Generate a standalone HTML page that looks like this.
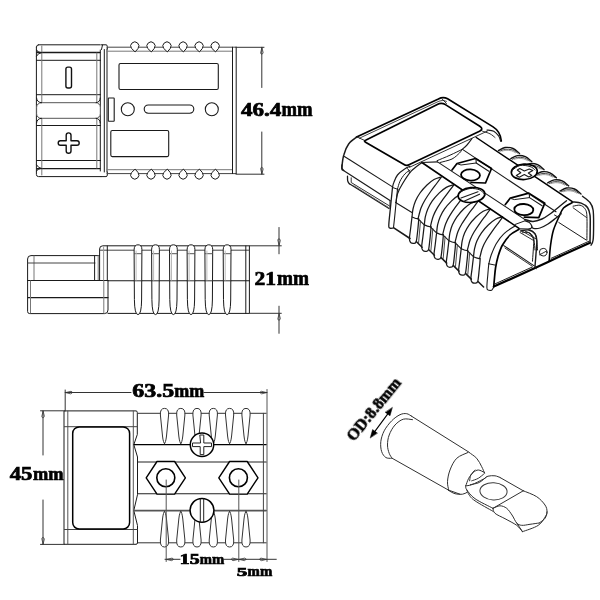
<!DOCTYPE html>
<html lang="en">
<head>
<meta charset="utf-8">
<title>Connector dimensions</title>
<style>
html,body{margin:0;padding:0;background:#fff;}
body{width:600px;height:600px;overflow:hidden;}
svg{display:block;}
text{font-family:"Liberation Serif",serif;font-weight:bold;fill:#000;}
</style>
</head>
<body>
<svg width="600" height="600" viewBox="0 0 600 600" fill="none" stroke-linecap="round" stroke-linejoin="round">
<rect x="0" y="0" width="600" height="600" fill="#fff"/>
<g id="top-view">
<path d="M38.5 44.8 H100 M36.4 47 Q36.4 44.8 38.5 44.8 M36.4 47 V174.5 Q36.4 176.6 38.5 176.6 H101" stroke="#1a1a1a" stroke-width="1" fill="none" />
<line x1="37" y1="52.5" x2="100" y2="52.5" stroke="#1a1a1a" stroke-width="1.3"/>
<line x1="36.5" y1="60.3" x2="100.5" y2="60.3" stroke="#1a1a1a" stroke-width="1"/>
<line x1="36.5" y1="94.7" x2="100.5" y2="94.7" stroke="#1a1a1a" stroke-width="1"/>
<line x1="36.5" y1="125.5" x2="100.5" y2="125.5" stroke="#1a1a1a" stroke-width="1"/>
<line x1="36.5" y1="160.5" x2="100.5" y2="160.5" stroke="#1a1a1a" stroke-width="1"/>
<line x1="37" y1="168.6" x2="100" y2="168.6" stroke="#1a1a1a" stroke-width="1.3"/>
<line x1="41.8" y1="46" x2="41.8" y2="102" stroke="#777" stroke-width="1"/>
<line x1="41.8" y1="119" x2="41.8" y2="175" stroke="#777" stroke-width="1"/>
<line x1="96.8" y1="53" x2="96.8" y2="102" stroke="#777" stroke-width="1"/>
<line x1="96.8" y1="119" x2="96.8" y2="168" stroke="#777" stroke-width="1"/>
<path d="M36.6 50 Q37 52.3 40 52.5 M36.6 56 Q38 53 41.8 52.5 M36.6 171 Q37 168.8 40 168.6 M36.6 165 Q38 168 41.8 168.6" stroke="#1a1a1a" stroke-width="1" fill="none" />
<line x1="100.3" y1="50" x2="100.3" y2="171" stroke="#1a1a1a" stroke-width="1"/>
<path d="M101 44.8 H106 Q107.3 44.8 107.3 46.5 V49 M101.5 49.5 L102.5 45 M104.3 49.5 V172 M107 49 V172 M101 176.6 H106 Q107.3 176.6 107.3 175 V172" stroke="#1a1a1a" stroke-width="1" fill="none" />
<rect x="36.6" y="102.7" width="63.7" height="15.6" rx="4.5" stroke="#555" stroke-width="1" fill="#fff"/>
<path d="M36.5 98 Q37 102.5 41.5 102.7 M36.5 123 Q37 118.5 41.5 118.3 M100.3 98 Q100 102.5 96 102.7 M100.3 123 Q100 118.5 96 118.3" stroke="#1a1a1a" stroke-width="1" fill="none" />
<rect x="65.9" y="67.1" width="5.6" height="20.9" rx="2" stroke="#111" stroke-width="1.4" fill="none"/>
<path d="M68.6 132.9 Q71 132.9 71 135.2 V140.8 H77 Q79.2 140.8 79.2 143 Q79.2 145.3 77 145.3 H71 V151 Q71 153.3 68.6 153.3 Q66.2 153.3 66.2 151 V145.3 H60.4 Q58.2 145.3 58.2 143 Q58.2 140.8 60.4 140.8 H66.2 V135.2 Q66.2 132.9 68.6 132.9 Z" stroke="#111" stroke-width="1.4" fill="none" />
<line x1="107" y1="47.2" x2="236" y2="47.2" stroke="#444" stroke-width="1"/>
<line x1="107" y1="51.2" x2="232.5" y2="51.2" stroke="#777" stroke-width="1"/>
<line x1="107" y1="169.7" x2="232.5" y2="169.7" stroke="#777" stroke-width="1"/>
<line x1="107" y1="173.6" x2="236" y2="173.6" stroke="#444" stroke-width="1"/>
<line x1="232.5" y1="47.2" x2="232.5" y2="173.6" stroke="#1a1a1a" stroke-width="1"/>
<line x1="236.2" y1="47.2" x2="236.2" y2="173.6" stroke="#1a1a1a" stroke-width="1"/>
<path d="M134.8 51.6 L131.4 48.3 A4.1 4.1 0 1 1 138.20000000000002 48.3 Z" stroke="#1a1a1a" stroke-width="1" fill="#fff" />
<path d="M134.8 169.4 L131.4 172.7 A4.1 4.1 0 1 0 138.20000000000002 172.7 Z" stroke="#1a1a1a" stroke-width="1" fill="#fff" />
<path d="M151 51.6 L147.6 48.3 A4.1 4.1 0 1 1 154.4 48.3 Z" stroke="#1a1a1a" stroke-width="1" fill="#fff" />
<path d="M151 169.4 L147.6 172.7 A4.1 4.1 0 1 0 154.4 172.7 Z" stroke="#1a1a1a" stroke-width="1" fill="#fff" />
<path d="M167 51.6 L163.6 48.3 A4.1 4.1 0 1 1 170.4 48.3 Z" stroke="#1a1a1a" stroke-width="1" fill="#fff" />
<path d="M167 169.4 L163.6 172.7 A4.1 4.1 0 1 0 170.4 172.7 Z" stroke="#1a1a1a" stroke-width="1" fill="#fff" />
<path d="M183.1 51.6 L179.7 48.3 A4.1 4.1 0 1 1 186.5 48.3 Z" stroke="#1a1a1a" stroke-width="1" fill="#fff" />
<path d="M183.1 169.4 L179.7 172.7 A4.1 4.1 0 1 0 186.5 172.7 Z" stroke="#1a1a1a" stroke-width="1" fill="#fff" />
<path d="M199.1 51.6 L195.7 48.3 A4.1 4.1 0 1 1 202.5 48.3 Z" stroke="#1a1a1a" stroke-width="1" fill="#fff" />
<path d="M199.1 169.4 L195.7 172.7 A4.1 4.1 0 1 0 202.5 172.7 Z" stroke="#1a1a1a" stroke-width="1" fill="#fff" />
<path d="M215.2 51.6 L211.79999999999998 48.3 A4.1 4.1 0 1 1 218.6 48.3 Z" stroke="#1a1a1a" stroke-width="1" fill="#fff" />
<path d="M215.2 169.4 L211.79999999999998 172.7 A4.1 4.1 0 1 0 218.6 172.7 Z" stroke="#1a1a1a" stroke-width="1" fill="#fff" />
<rect x="119" y="63.5" width="99.3" height="26.0" rx="1.5" stroke="#1a1a1a" stroke-width="1.1" fill="none"/>
<rect x="108.3" y="98" width="5.9" height="23.2" rx="0.5" stroke="#1a1a1a" stroke-width="1.1" fill="none"/>
<circle cx="127.8" cy="109.2" r="6.5" stroke="#1a1a1a" stroke-width="1.1" fill="none"/>
<rect x="144.2" y="105" width="49.6" height="8.2" rx="4.1" stroke="#1a1a1a" stroke-width="1.1" fill="none"/>
<circle cx="211.8" cy="109.2" r="6.5" stroke="#1a1a1a" stroke-width="1.1" fill="none"/>
<rect x="110.8" y="130.5" width="57.9" height="26.1" rx="1.5" stroke="#1a1a1a" stroke-width="1.1" fill="none"/>
<line x1="236" y1="47.3" x2="264" y2="47.3" stroke="#333" stroke-width="1"/>
<line x1="236" y1="174.2" x2="264" y2="174.2" stroke="#333" stroke-width="1"/>
<line x1="261.8" y1="47.3" x2="261.8" y2="87.5" stroke="#333" stroke-width="1"/>
<line x1="261.8" y1="132" x2="261.8" y2="174.3" stroke="#333" stroke-width="1"/>
<path d="M261.8 48 L260.6 53 Q261.8 56 263 53 Z" stroke="#333" stroke-width="0.8" fill="none" />
<path d="M261.8 173.6 L260.6 168.6 Q261.8 165.6 263 168.6 Z" stroke="#333" stroke-width="0.8" fill="none" />
</g>
<g id="side-view">
<path d="M99.6 255.6 H31 Q27.6 255.6 27.6 259 V280.5" stroke="#1a1a1a" stroke-width="1" fill="none" />
<line x1="34" y1="256" x2="34" y2="280" stroke="#777" stroke-width="1"/>
<line x1="28" y1="263" x2="95" y2="263" stroke="#444" stroke-width="1"/>
<line x1="94.6" y1="256" x2="94.6" y2="280" stroke="#1a1a1a" stroke-width="1"/>
<line x1="98.2" y1="255.6" x2="98.2" y2="280" stroke="#777" stroke-width="1"/>
<path d="M27.6 280.5 V311.5 Q27.6 313.6 29.7 313.6 H104.5 Q108 313.6 108 310 V280.5" stroke="#1a1a1a" stroke-width="1" fill="none" />
<line x1="27.6" y1="280.5" x2="108" y2="280.5" stroke="#1a1a1a" stroke-width="1.2"/>
<line x1="28" y1="297.6" x2="108" y2="297.6" stroke="#1a1a1a" stroke-width="1.1"/>
<line x1="30.5" y1="281" x2="30.5" y2="313" stroke="#777" stroke-width="1"/>
<line x1="103.8" y1="281" x2="103.8" y2="313" stroke="#777" stroke-width="1"/>
<path d="M99.6 280 V249 Q99.6 245.8 102.8 245.8 H249.4 V313.4 H108" stroke="#1a1a1a" stroke-width="1" fill="none" />
<line x1="100" y1="250.2" x2="249" y2="250.2" stroke="#444" stroke-width="1"/>
<line x1="108" y1="280.8" x2="249.4" y2="280.8" stroke="#1a1a1a" stroke-width="1.1"/>
<line x1="245.8" y1="246" x2="245.8" y2="313.4" stroke="#1a1a1a" stroke-width="1"/>
<line x1="107.3" y1="246" x2="107.3" y2="280.5" stroke="#1a1a1a" stroke-width="1"/>
<line x1="103.6" y1="247" x2="103.6" y2="280" stroke="#999" stroke-width="1"/>
<path d="M134.1 249.5 Q134.1 244.8 138 244.8 Q141.9 244.8 141.9 249.5 L141.6 300 Q141.4 314.6 138 314.6 Q134.6 314.6 134.4 300 Z" stroke="#1a1a1a" stroke-width="1" fill="#fff" />
<line x1="134.4" y1="253.7" x2="141.6" y2="253.7" stroke="#555" stroke-width="1"/>
<line x1="134.2" y1="280.8" x2="141.8" y2="280.8" stroke="#333" stroke-width="1"/>
<line x1="136.1" y1="251" x2="136.1" y2="280" stroke="#bbb" stroke-width="1"/>
<path d="M151.6 249.5 Q151.6 244.8 155.5 244.8 Q159.4 244.8 159.4 249.5 L159.1 300 Q158.9 314.6 155.5 314.6 Q152.1 314.6 151.9 300 Z" stroke="#1a1a1a" stroke-width="1" fill="#fff" />
<line x1="151.9" y1="253.7" x2="159.1" y2="253.7" stroke="#555" stroke-width="1"/>
<line x1="151.7" y1="280.8" x2="159.3" y2="280.8" stroke="#333" stroke-width="1"/>
<line x1="153.6" y1="251" x2="153.6" y2="280" stroke="#bbb" stroke-width="1"/>
<path d="M169.5 249.5 Q169.5 244.8 173.4 244.8 Q177.3 244.8 177.3 249.5 L177.0 300 Q176.8 314.6 173.4 314.6 Q170.0 314.6 169.8 300 Z" stroke="#1a1a1a" stroke-width="1" fill="#fff" />
<line x1="169.8" y1="253.7" x2="177.0" y2="253.7" stroke="#555" stroke-width="1"/>
<line x1="169.6" y1="280.8" x2="177.20000000000002" y2="280.8" stroke="#333" stroke-width="1"/>
<line x1="171.5" y1="251" x2="171.5" y2="280" stroke="#bbb" stroke-width="1"/>
<path d="M187.1 249.5 Q187.1 244.8 191 244.8 Q194.9 244.8 194.9 249.5 L194.6 300 Q194.4 314.6 191 314.6 Q187.6 314.6 187.4 300 Z" stroke="#1a1a1a" stroke-width="1" fill="#fff" />
<line x1="187.4" y1="253.7" x2="194.6" y2="253.7" stroke="#555" stroke-width="1"/>
<line x1="187.2" y1="280.8" x2="194.8" y2="280.8" stroke="#333" stroke-width="1"/>
<line x1="189.1" y1="251" x2="189.1" y2="280" stroke="#bbb" stroke-width="1"/>
<path d="M204.9 249.5 Q204.9 244.8 208.8 244.8 Q212.70000000000002 244.8 212.70000000000002 249.5 L212.4 300 Q212.20000000000002 314.6 208.8 314.6 Q205.4 314.6 205.20000000000002 300 Z" stroke="#1a1a1a" stroke-width="1" fill="#fff" />
<line x1="205.20000000000002" y1="253.7" x2="212.4" y2="253.7" stroke="#555" stroke-width="1"/>
<line x1="205.0" y1="280.8" x2="212.60000000000002" y2="280.8" stroke="#333" stroke-width="1"/>
<line x1="206.9" y1="251" x2="206.9" y2="280" stroke="#bbb" stroke-width="1"/>
<path d="M223.2 249.5 Q223.2 244.8 227.1 244.8 Q231.0 244.8 231.0 249.5 L230.7 300 Q230.5 314.6 227.1 314.6 Q223.7 314.6 223.5 300 Z" stroke="#1a1a1a" stroke-width="1" fill="#fff" />
<line x1="223.5" y1="253.7" x2="230.7" y2="253.7" stroke="#555" stroke-width="1"/>
<line x1="223.29999999999998" y1="280.8" x2="230.9" y2="280.8" stroke="#333" stroke-width="1"/>
<line x1="225.2" y1="251" x2="225.2" y2="280" stroke="#bbb" stroke-width="1"/>
<line x1="249.4" y1="245.8" x2="281.3" y2="245.8" stroke="#333" stroke-width="1"/>
<line x1="249.4" y1="313.3" x2="281.3" y2="313.3" stroke="#333" stroke-width="1"/>
<line x1="279" y1="227.5" x2="279" y2="253.8" stroke="#333" stroke-width="1"/>
<line x1="279" y1="306.2" x2="279" y2="333.3" stroke="#333" stroke-width="1"/>
<path d="M279 245 L277.8 240 Q279 237 280.2 240 Z" stroke="#333" stroke-width="0.8" fill="none" />
<path d="M279 314 L277.8 319 Q279 322 280.2 319 Z" stroke="#333" stroke-width="0.8" fill="none" />
</g>
<g id="bottom-view">
<path d="M64.4 410.9 H136 Q137.3 410.9 137.3 412.5 V434.5 L133.8 444.7 L137.5 457 V494.7 L133.8 510.5 L137.5 525.5 V543 Q137.3 544.3 136 544.3 H64.4 Z" stroke="#1a1a1a" stroke-width="1" fill="none" />
<line x1="67.8" y1="411" x2="67.8" y2="544" stroke="#555" stroke-width="1"/>
<line x1="133.3" y1="411" x2="133.3" y2="544" stroke="#555" stroke-width="1"/>
<line x1="64.4" y1="426.7" x2="137.3" y2="426.7" stroke="#444" stroke-width="1"/>
<line x1="64.4" y1="529.5" x2="137.3" y2="529.5" stroke="#444" stroke-width="1"/>
<rect x="72.7" y="426.9" width="56.9" height="102.1" rx="6.5" stroke="#000" stroke-width="1.5" fill="#fff"/>
<line x1="138" y1="413.3" x2="266.2" y2="413.3" stroke="#333" stroke-width="1"/>
<line x1="134" y1="444.6" x2="266.2" y2="444.6" stroke="#000" stroke-width="1.4"/>
<line x1="138" y1="462" x2="266.2" y2="462" stroke="#222" stroke-width="1.1"/>
<line x1="138" y1="493.8" x2="266.2" y2="493.8" stroke="#222" stroke-width="1.1"/>
<line x1="134" y1="510.6" x2="266.2" y2="510.6" stroke="#555" stroke-width="1.6"/>
<line x1="138" y1="542.8" x2="266.2" y2="542.8" stroke="#333" stroke-width="1"/>
<line x1="263.4" y1="413.3" x2="263.4" y2="542.8" stroke="#444" stroke-width="1"/>
<path d="M164.5 443.6 Q163.3 443 162.5 436 L160.4 415 Q159.9 408.4 164.5 408.4 Q169.1 408.4 168.6 415 L166.5 436 Q165.7 443 164.5 443.6 Z" stroke="#333" stroke-width="1" fill="#fff" />
<path d="M164.5 511.4 Q163.3 512 162.5 519 L160.4 540 Q159.9 547 164.5 547 Q169.1 547 168.6 540 L166.5 519 Q165.7 512 164.5 511.4 Z" stroke="#333" stroke-width="1" fill="#fff" />
<path d="M180.8 443.6 Q179.60000000000002 443 178.8 436 L176.70000000000002 415 Q176.20000000000002 408.4 180.8 408.4 Q185.4 408.4 184.9 415 L182.8 436 Q182.0 443 180.8 443.6 Z" stroke="#333" stroke-width="1" fill="#fff" />
<path d="M180.8 511.4 Q179.60000000000002 512 178.8 519 L176.70000000000002 540 Q176.20000000000002 547 180.8 547 Q185.4 547 184.9 540 L182.8 519 Q182.0 512 180.8 511.4 Z" stroke="#333" stroke-width="1" fill="#fff" />
<path d="M197 443.6 Q195.8 443 195 436 L192.9 415 Q192.4 408.4 197 408.4 Q201.6 408.4 201.1 415 L199 436 Q198.2 443 197 443.6 Z" stroke="#333" stroke-width="1" fill="#fff" />
<path d="M197 511.4 Q195.8 512 195 519 L192.9 540 Q192.4 547 197 547 Q201.6 547 201.1 540 L199 519 Q198.2 512 197 511.4 Z" stroke="#333" stroke-width="1" fill="#fff" />
<path d="M213.3 443.6 Q212.10000000000002 443 211.3 436 L209.20000000000002 415 Q208.70000000000002 408.4 213.3 408.4 Q217.9 408.4 217.4 415 L215.3 436 Q214.5 443 213.3 443.6 Z" stroke="#333" stroke-width="1" fill="#fff" />
<path d="M213.3 511.4 Q212.10000000000002 512 211.3 519 L209.20000000000002 540 Q208.70000000000002 547 213.3 547 Q217.9 547 217.4 540 L215.3 519 Q214.5 512 213.3 511.4 Z" stroke="#333" stroke-width="1" fill="#fff" />
<path d="M229.6 443.6 Q228.4 443 227.6 436 L225.5 415 Q225.0 408.4 229.6 408.4 Q234.2 408.4 233.7 415 L231.6 436 Q230.79999999999998 443 229.6 443.6 Z" stroke="#333" stroke-width="1" fill="#fff" />
<path d="M229.6 511.4 Q228.4 512 227.6 519 L225.5 540 Q225.0 547 229.6 547 Q234.2 547 233.7 540 L231.6 519 Q230.79999999999998 512 229.6 511.4 Z" stroke="#333" stroke-width="1" fill="#fff" />
<path d="M246 443.6 Q244.8 443 244 436 L241.9 415 Q241.4 408.4 246 408.4 Q250.6 408.4 250.1 415 L248 436 Q247.2 443 246 443.6 Z" stroke="#333" stroke-width="1" fill="#fff" />
<path d="M246 511.4 Q244.8 512 244 519 L241.9 540 Q241.4 547 246 547 Q250.6 547 250.1 540 L248 519 Q247.2 512 246 511.4 Z" stroke="#333" stroke-width="1" fill="#fff" />
<circle cx="202" cy="444.8" r="11.7" stroke="#000" stroke-width="1.5" fill="#fff"/>
<path d="M200.2 435 H203.8 V443 H211.5 V446.6 H203.8 V454.6 H200.2 V446.6 H192.5 V443 H200.2 Z" stroke="#222" stroke-width="1" fill="none" />
<circle cx="202" cy="510.3" r="11.9" stroke="#000" stroke-width="1.5" fill="#fff"/>
<path d="M200.3 499 V521.5 M203.7 499 V521.5" stroke="#222" stroke-width="1" fill="none" />
<path d="M146.20000000000002 477.8 L157.0 461.5 H174.60000000000002 L185.4 477.8 L174.60000000000002 494.1 H157.0 Z" stroke="#000" stroke-width="1.4" fill="#fff" />
<circle cx="165.8" cy="477.8" r="9" stroke="#000" stroke-width="1.6" fill="#fff"/>
<line x1="166.20000000000002" y1="480" x2="166.20000000000002" y2="561.5" stroke="#555" stroke-width="1"/>
<path d="M218.8 477.8 L229.6 461.5 H247.20000000000002 L258.0 477.8 L247.20000000000002 494.1 H229.6 Z" stroke="#000" stroke-width="1.4" fill="#fff" />
<circle cx="238.4" cy="477.8" r="9" stroke="#000" stroke-width="1.6" fill="#fff"/>
<line x1="238.8" y1="480" x2="238.8" y2="561.5" stroke="#555" stroke-width="1"/>
<line x1="65.2" y1="390" x2="65.2" y2="411" stroke="#333" stroke-width="1"/>
<line x1="267" y1="389.5" x2="267" y2="561.5" stroke="#555" stroke-width="1"/>
<line x1="65.2" y1="392.5" x2="131" y2="392.5" stroke="#333" stroke-width="1"/>
<line x1="204" y1="392.5" x2="267" y2="392.5" stroke="#333" stroke-width="1"/>
<path d="M66 392.5 L71 391.3 Q74 392.5 71 393.7 Z" stroke="#333" stroke-width="0.8" fill="none" />
<path d="M266.3 392.5 L261.3 391.3 Q258.3 392.5 261.3 393.7 Z" stroke="#333" stroke-width="0.8" fill="none" />
<line x1="40.5" y1="410.8" x2="64.4" y2="410.8" stroke="#333" stroke-width="1"/>
<line x1="40.5" y1="544.4" x2="64.4" y2="544.4" stroke="#333" stroke-width="1"/>
<line x1="43" y1="410.8" x2="43" y2="455" stroke="#333" stroke-width="1"/>
<line x1="43" y1="500" x2="43" y2="544.4" stroke="#333" stroke-width="1"/>
<path d="M43 411.5 L41.8 416.5 Q43 419.5 44.2 416.5 Z" stroke="#333" stroke-width="0.8" fill="none" />
<path d="M43 543.7 L41.8 538.7 Q43 535.7 44.2 538.7 Z" stroke="#333" stroke-width="0.8" fill="none" />
<line x1="165" y1="559.3" x2="180" y2="559.3" stroke="#333" stroke-width="1"/>
<line x1="224" y1="559.3" x2="276.3" y2="559.3" stroke="#333" stroke-width="1"/>
<path d="M167 559.3 L172 558.1 Q175 559.3 172 560.5 Z" stroke="#333" stroke-width="0.8" fill="none" />
<path d="M237.7 559.3 L232.7 558.1 Q229.7 559.3 232.7 560.5 Z" stroke="#333" stroke-width="0.8" fill="none" />
<path d="M239.7 559.3 L244.7 558.1 Q247.7 559.3 244.7 560.5 Z" stroke="#333" stroke-width="0.8" fill="none" />
<path d="M266 559.3 L261 558.1 Q258 559.3 261 560.5 Z" stroke="#333" stroke-width="0.8" fill="none" />
</g>
<g id="iso-view">
<path d="M356.6 136.9 L438.4 98.9 Q443.2 96.2 447.6 98.8 L493.1 126.9 Q500.5 131.5 501.3 141" stroke="#000" stroke-width="1.7" fill="none" />
<path d="M359.4 138.2 L439 101.2 Q443 99.3 446.5 101.3" stroke="#1a1a1a" stroke-width="0.8" fill="none" />
<path d="M441.9 98.8 L446.5 103.5" stroke="#1a1a1a" stroke-width="0.9" fill="none" />
<path d="M365.6 140.2 L437.3 104.4 Q441.3 102.3 445.4 104.6 L479.8 126.2 Q484 129 479.5 131.3 L409.5 164.6 Q406.5 166.2 403.6 164.3 L366 142.6 Q363.2 141 365.6 140.2 Z" stroke="#000" stroke-width="1.7" fill="none" />
<path d="M356.9 136.9 C355.5 138.0 350.9 140.7 348.8 143.8 C346.6 146.8 344.9 151.0 343.8 155.0 C342.6 159.0 342.1 165.0 341.9 167.5 C341.7 170.0 342.4 169.6 342.5 170.0" stroke="#1a1a1a" stroke-width="1.5" fill="none" />
<path d="M356.9 136.9 L365.0 140.6" stroke="#1a1a1a" stroke-width="0.9" fill="none" />
<path d="M344.4 156.5 L350.0 160.0 L392.5 186.9" stroke="#1a1a1a" stroke-width="1.1" fill="none" />
<path d="M341.9 165.0 C341.9 165.6 341.7 167.6 342.0 168.5 C342.3 169.4 343.5 170.2 343.8 170.5" stroke="#1a1a1a" stroke-width="1.3" fill="none" />
<path d="M343.5 170.5 L390.0 200.6" stroke="#1a1a1a" stroke-width="1.2" fill="none" />
<path d="M347.5 176.2 C347.5 177.1 347.4 180.0 347.8 181.2 C348.1 182.5 349.1 183.3 349.4 183.8" stroke="#1a1a1a" stroke-width="1.3" fill="none" />
<path d="M349.4 183.8 L389.0 208.5" stroke="#1a1a1a" stroke-width="1.2" fill="none" />
<path d="M351.2 177.8 L351.2 182.5 L389.4 205.9" stroke="#1a1a1a" stroke-width="0.9" fill="none" />
<path d="M353.8 185.6 L388.1 207.2" stroke="#555" stroke-width="0.8" fill="none" />
<path d="M410.0 166.2 C409.2 166.7 407.1 167.3 405.0 168.8 C402.9 170.2 399.4 172.7 397.5 175.0 C395.6 177.3 394.6 180.4 393.8 182.5 C392.9 184.6 392.7 186.7 392.5 187.5" stroke="#1a1a1a" stroke-width="1.2" fill="none" />
<path d="M410.0 170.2 C409.2 170.8 406.7 171.9 405.0 173.8 C403.3 175.6 401.2 178.7 400.0 181.2 C398.8 183.8 397.9 187.7 397.5 189.0" stroke="#1a1a1a" stroke-width="1.0" fill="none" />
<path d="M392.5 187.5 L398.1 189.4" stroke="#1a1a1a" stroke-width="1" fill="none" />
<path d="M392.5 187.5 C392.2 190.6 391.2 200.0 390.6 206.2 C390.0 212.5 388.9 221.4 388.8 225.0 C388.6 228.6 389.3 227.6 390.0 228.1 C390.7 228.6 392.6 228.1 393.1 228.1" stroke="#1a1a1a" stroke-width="1.3" fill="none" />
<path d="M397.5 189.4 C397.2 192.4 396.3 201.1 395.6 207.5 C395.0 213.9 393.9 224.2 393.5 227.5" stroke="#1a1a1a" stroke-width="1.1" fill="none" />
<path d="M390.0 200.6 L390.0 208.1" stroke="#1a1a1a" stroke-width="1" fill="none" />
</g>
<g id="iso-body">
<line x1="409.5" y1="167.3" x2="487.5" y2="131" stroke="#1a1a1a" stroke-width="0.9"/>
<path d="M406.9 168.1 C407.2 168.4 408.3 169.3 408.8 170.0 C409.2 170.7 409.3 172.1 409.4 172.5" stroke="#1a1a1a" stroke-width="1" fill="none" />
<path d="M421.9 162.5 C420.1 164.0 414.5 167.7 411.2 171.2 C408.0 174.8 404.8 180.0 402.5 183.8 C400.2 187.5 398.6 190.6 397.5 193.8 C396.4 196.9 396.2 201.0 396.0 202.5" stroke="#1a1a1a" stroke-width="1.2" fill="none" />
<path d="M395.6 202.5 L411.9 212.5" stroke="#1a1a1a" stroke-width="1.1" fill="none" />
<path d="M393.8 227.8 L410.0 238.5" stroke="#1a1a1a" stroke-width="1.6" fill="none" />
<path d="M441.0 177.0 C439.8 177.4 436.3 178.2 434.0 179.5 C431.7 180.8 429.3 182.8 427.0 185.0 C424.7 187.2 421.9 190.3 420.0 193.0 C418.1 195.7 416.7 198.3 415.5 201.0 C414.3 203.7 413.6 206.3 413.0 209.0 C412.4 211.7 412.2 215.7 412.0 217.0" stroke="#1a1a1a" stroke-width="1.25" fill="none" />
<path d="M441.2 177.4 C440.5 178.3 438.7 180.7 437.0 183.0 C435.3 185.3 433.0 188.2 431.0 191.0 C429.0 193.8 426.7 197.2 425.0 200.0 C423.3 202.8 422.0 205.5 421.0 208.0 C420.0 210.5 419.5 213.2 419.0 215.0 C418.5 216.8 418.2 218.2 418.1 218.8" stroke="#1a1a1a" stroke-width="1.25" fill="none" />
<path d="M412.0 217.0 C412.5 217.2 414.0 217.9 415.0 218.2 C416.0 218.5 417.6 218.7 418.1 218.8" stroke="#1a1a1a" stroke-width="1.2" fill="none" />
<path d="M418.1 218.8 L424.2 224.8" stroke="#1a1a1a" stroke-width="1.1" fill="none" />
<path d="M411.9 217.8 C411.7 219.6 411.0 225.2 410.6 228.8 C410.2 232.2 409.4 236.5 409.4 238.8 C409.4 241.0 409.9 241.7 410.6 242.5 C411.4 243.3 412.8 243.5 413.8 243.4 C414.7 243.2 415.6 243.7 416.2 241.5 C416.9 239.3 417.3 233.8 417.8 230.0 C418.2 226.2 418.6 220.6 418.8 218.8" stroke="#1a1a1a" stroke-width="1.25" fill="none" />
<path d="M420.5 220.8 L418.6 242.5" stroke="#333" stroke-width="0.9" fill="none" />
<path d="M416.5 241.8 L422.1 247.2" stroke="#1a1a1a" stroke-width="1.5" fill="none" />
<path d="M453.3 184.9 C452.1 185.4 448.6 186.1 446.3 187.4 C444.0 188.8 441.6 190.7 439.3 192.9 C437.0 195.2 434.2 198.3 432.3 200.9 C430.4 203.6 429.0 206.3 427.8 208.9 C426.6 211.6 425.9 214.3 425.3 216.9 C424.7 219.6 424.5 223.6 424.3 224.9" stroke="#1a1a1a" stroke-width="1.25" fill="none" />
<path d="M453.5 185.3 C452.8 186.3 451.0 188.7 449.3 190.9 C447.6 193.2 445.3 196.1 443.3 198.9 C441.3 201.8 439.0 205.1 437.3 207.9 C435.6 210.8 434.3 213.4 433.3 215.9 C432.3 218.4 431.8 221.1 431.3 222.9 C430.8 224.8 430.6 226.1 430.4 226.8" stroke="#1a1a1a" stroke-width="1.25" fill="none" />
<path d="M424.3 224.9 C424.8 225.1 426.3 225.8 427.3 226.1 C428.3 226.4 429.9 226.7 430.4 226.8" stroke="#1a1a1a" stroke-width="1.2" fill="none" />
<path d="M430.4 226.8 L436.5 232.8" stroke="#1a1a1a" stroke-width="1.1" fill="none" />
<path d="M424.2 225.7 C424.0 227.5 423.3 233.2 422.9 236.7 C422.5 240.2 421.7 244.4 421.7 246.7 C421.7 249.0 422.2 249.7 422.9 250.4 C423.7 251.2 425.1 251.5 426.1 251.3 C427.0 251.2 427.9 251.7 428.6 249.4 C429.2 247.2 429.6 241.7 430.1 237.9 C430.5 234.2 430.9 228.6 431.1 226.7" stroke="#1a1a1a" stroke-width="1.25" fill="none" />
<path d="M432.8 228.7 L430.9 250.4" stroke="#333" stroke-width="0.9" fill="none" />
<path d="M428.8 249.7 L434.4 255.2" stroke="#1a1a1a" stroke-width="1.5" fill="none" />
<path d="M465.6 192.9 C464.4 193.3 460.9 194.1 458.6 195.4 C456.3 196.7 453.9 198.7 451.6 200.9 C449.3 203.2 446.5 206.2 444.6 208.9 C442.7 211.6 441.3 214.2 440.1 216.9 C438.9 219.6 438.2 222.2 437.6 224.9 C437.0 227.6 436.8 231.6 436.6 232.9" stroke="#1a1a1a" stroke-width="1.25" fill="none" />
<path d="M465.8 193.3 C465.1 194.2 463.3 196.6 461.6 198.9 C459.9 201.2 457.6 204.1 455.6 206.9 C453.6 209.7 451.3 213.1 449.6 215.9 C447.9 218.7 446.6 221.4 445.6 223.9 C444.6 226.4 444.1 229.1 443.6 230.9 C443.1 232.7 442.9 234.1 442.7 234.7" stroke="#1a1a1a" stroke-width="1.25" fill="none" />
<path d="M436.6 232.9 C437.1 233.1 438.6 233.8 439.6 234.1 C440.6 234.4 442.2 234.6 442.7 234.7" stroke="#1a1a1a" stroke-width="1.2" fill="none" />
<path d="M442.7 234.7 L448.8 240.7" stroke="#1a1a1a" stroke-width="1.1" fill="none" />
<path d="M436.5 233.7 C436.3 235.5 435.6 241.2 435.2 244.7 C434.8 248.2 434.0 252.4 434.0 254.7 C434.0 256.9 434.5 257.6 435.2 258.4 C436.0 259.2 437.4 259.4 438.4 259.3 C439.3 259.1 440.2 259.6 440.9 257.4 C441.5 255.2 441.9 249.7 442.4 245.9 C442.8 242.1 443.2 236.5 443.4 234.7" stroke="#1a1a1a" stroke-width="1.25" fill="none" />
<path d="M445.1 236.7 L443.2 258.4" stroke="#333" stroke-width="0.9" fill="none" />
<path d="M441.1 257.6 L446.7 263.1" stroke="#1a1a1a" stroke-width="1.5" fill="none" />
<path d="M477.9 200.8 C476.7 201.3 473.2 202.0 470.9 203.3 C468.6 204.7 466.2 206.6 463.9 208.8 C461.6 211.1 458.8 214.2 456.9 216.8 C455.0 219.5 453.6 222.2 452.4 224.8 C451.2 227.5 450.5 230.2 449.9 232.8 C449.3 235.5 449.1 239.5 448.9 240.8" stroke="#1a1a1a" stroke-width="1.25" fill="none" />
<path d="M478.1 201.2 C477.4 202.2 475.6 204.6 473.9 206.8 C472.2 209.1 469.9 212.0 467.9 214.8 C465.9 217.7 463.6 221.0 461.9 223.8 C460.2 226.7 458.9 229.3 457.9 231.8 C456.9 234.3 456.4 237.0 455.9 238.8 C455.4 240.7 455.1 242.0 455.0 242.7" stroke="#1a1a1a" stroke-width="1.25" fill="none" />
<path d="M448.9 240.8 C449.4 241.0 450.9 241.7 451.9 242.0 C452.9 242.3 454.5 242.6 455.0 242.7" stroke="#1a1a1a" stroke-width="1.2" fill="none" />
<path d="M455.0 242.7 L461.1 248.7" stroke="#1a1a1a" stroke-width="1.1" fill="none" />
<path d="M448.8 241.6 C448.6 243.4 447.9 249.1 447.5 252.6 C447.1 256.1 446.3 260.3 446.3 262.6 C446.3 264.9 446.8 265.6 447.5 266.4 C448.3 267.1 449.7 267.4 450.6 267.2 C451.6 267.1 452.5 267.6 453.1 265.4 C453.8 263.1 454.2 257.6 454.6 253.8 C455.1 250.1 455.5 244.5 455.6 242.6" stroke="#1a1a1a" stroke-width="1.25" fill="none" />
<path d="M457.4 244.6 L455.5 266.4" stroke="#333" stroke-width="0.9" fill="none" />
<path d="M453.4 265.6 L459.0 271.1" stroke="#1a1a1a" stroke-width="1.5" fill="none" />
<path d="M490.2 208.8 C489.0 209.2 485.5 210.0 483.2 211.3 C480.9 212.6 478.5 214.6 476.2 216.8 C473.9 219.1 471.1 222.1 469.2 224.8 C467.3 227.5 465.9 230.1 464.7 232.8 C463.5 235.5 462.8 238.1 462.2 240.8 C461.6 243.5 461.4 247.5 461.2 248.8" stroke="#1a1a1a" stroke-width="1.25" fill="none" />
<path d="M490.4 209.2 C489.7 210.1 487.9 212.5 486.2 214.8 C484.5 217.1 482.2 220.0 480.2 222.8 C478.2 225.6 475.9 229.0 474.2 231.8 C472.5 234.6 471.2 237.3 470.2 239.8 C469.2 242.3 468.7 245.0 468.2 246.8 C467.7 248.6 467.4 250.0 467.3 250.6" stroke="#1a1a1a" stroke-width="1.25" fill="none" />
<path d="M461.2 248.8 C461.7 249.0 463.2 249.7 464.2 250.0 C465.2 250.3 466.8 250.5 467.3 250.6" stroke="#1a1a1a" stroke-width="1.2" fill="none" />
<path d="M467.3 250.6 L473.4 256.6" stroke="#1a1a1a" stroke-width="1.1" fill="none" />
<path d="M461.1 249.6 C460.9 251.4 460.2 257.1 459.8 260.6 C459.4 264.1 458.6 268.3 458.6 270.6 C458.6 272.8 459.1 273.5 459.8 274.3 C460.6 275.1 462.0 275.3 462.9 275.2 C463.9 275.0 464.8 275.5 465.4 273.3 C466.1 271.1 466.5 265.6 466.9 261.8 C467.4 258.0 467.8 252.4 467.9 250.6" stroke="#1a1a1a" stroke-width="1.25" fill="none" />
<path d="M469.7 252.6 L467.8 274.3" stroke="#333" stroke-width="0.9" fill="none" />
<path d="M465.7 273.6 L471.3 279.1" stroke="#1a1a1a" stroke-width="1.5" fill="none" />
<path d="M502.5 216.8 C501.3 217.2 497.8 217.9 495.5 219.2 C493.2 220.6 490.8 222.5 488.5 224.8 C486.2 227.0 483.4 230.1 481.5 232.8 C479.6 235.4 478.2 238.1 477.0 240.8 C475.8 243.4 475.1 246.1 474.5 248.8 C473.9 251.4 473.7 255.4 473.5 256.8" stroke="#1a1a1a" stroke-width="1.25" fill="none" />
<path d="M502.7 217.2 C502.0 218.1 500.2 220.5 498.5 222.8 C496.8 225.0 494.5 227.9 492.5 230.8 C490.5 233.6 488.2 236.9 486.5 239.8 C484.8 242.6 483.5 245.2 482.5 247.8 C481.5 250.2 481.0 252.9 480.5 254.8 C480.0 256.6 479.8 257.9 479.6 258.6" stroke="#1a1a1a" stroke-width="1.25" fill="none" />
<path d="M473.5 256.8 C474.0 256.9 475.5 257.6 476.5 257.9 C477.5 258.2 479.1 258.4 479.6 258.6" stroke="#1a1a1a" stroke-width="1.2" fill="none" />
<path d="M473.4 257.5 C473.2 259.3 472.5 265.0 472.1 268.5 C471.7 272.0 470.9 276.2 470.9 278.5 C470.9 280.8 471.4 281.5 472.1 282.2 C472.9 283.0 474.3 283.3 475.2 283.1 C476.2 283.0 477.1 283.5 477.8 281.2 C478.4 279.0 478.8 273.5 479.2 269.8 C479.7 266.0 480.1 260.4 480.2 258.5" stroke="#1a1a1a" stroke-width="1.25" fill="none" />
<path d="M478.0 281.5 L483.6 287.0" stroke="#1a1a1a" stroke-width="1.5" fill="none" />
<line x1="421.9" y1="162.5" x2="519" y2="228.3" stroke="#000" stroke-width="1.6"/>
<line x1="437.5" y1="161.9" x2="525" y2="219.6" stroke="#1a1a1a" stroke-width="1.1"/>
<line x1="462.5" y1="149.4" x2="556" y2="211.8" stroke="#1a1a1a" stroke-width="1.1"/>
<line x1="476.3" y1="137.5" x2="572.3" y2="201.7" stroke="#000" stroke-width="1.5"/>
<path d="M421.9 162.5 L437.5 161.9" stroke="#1a1a1a" stroke-width="1.1" fill="none" />
<path d="M462.0 149.5 C462.8 148.8 465.3 146.8 467.0 145.0 C468.7 143.2 471.2 139.6 472.0 138.5" stroke="#1a1a1a" stroke-width="1.1" fill="none" />
<path d="M437.0 160.7 C439.2 159.8 445.8 157.1 450.0 155.2 C454.2 153.3 460.0 150.4 462.0 149.5" stroke="#1a1a1a" stroke-width="1.0" fill="none" />
<path d="M440.0 162.5 C442.0 161.9 448.8 160.6 452.0 159.0 C455.2 157.4 457.8 154.6 459.5 153.0 C461.2 151.4 461.6 150.1 462.0 149.5" stroke="#1a1a1a" stroke-width="1.0" fill="none" />
</g>
<g id="iso-front">
<path d="M518.8 229.4 C517.3 230.3 512.7 232.4 510.0 235.0 C507.3 237.6 504.5 241.5 502.5 245.0 C500.5 248.5 499.3 252.5 498.1 256.2 C497.0 260.0 496.2 263.8 495.6 267.5 C495.0 271.2 494.7 275.6 494.4 278.8 C494.1 281.9 493.9 285.2 493.8 286.5" stroke="#000" stroke-width="1.7" fill="none" />
<path d="M515.0 226.0 C513.1 227.3 506.9 230.8 503.8 233.8 C500.6 236.7 498.3 240.2 496.2 243.8 C494.2 247.3 492.5 251.7 491.2 255.0 C490.0 258.3 489.2 262.3 488.8 263.8" stroke="#1a1a1a" stroke-width="1.1" fill="none" />
<path d="M488.8 263.8 C488.6 265.6 488.1 271.0 487.8 275.0 C487.4 279.0 486.8 285.0 486.9 287.5 C486.9 290.0 487.3 289.6 488.1 290.0 C489.0 290.4 490.9 290.5 491.9 290.0 C492.8 289.5 493.4 287.4 493.8 286.9" stroke="#1a1a1a" stroke-width="1.1" fill="none" />
<path d="M488.8 263.8 L495.6 265.2" stroke="#1a1a1a" stroke-width="1" fill="none" />
<path d="M520.6 231.0 C522.0 230.8 526.4 229.5 528.8 230.0 C531.1 230.5 533.6 232.0 535.0 233.8 C536.4 235.5 536.7 237.3 536.9 240.6 C537.0 244.0 536.3 249.5 536.0 253.8 C535.7 258.0 535.2 264.2 535.0 266.2" stroke="#1a1a1a" stroke-width="1.4" fill="none" />
<path d="M522.5 232.8 C523.5 232.7 527.0 231.9 528.8 232.5 C530.5 233.1 532.3 234.9 533.1 236.5 C534.0 238.1 533.9 237.8 533.8 241.9 C533.6 246.0 532.7 258.0 532.5 261.2" stroke="#1a1a1a" stroke-width="1.0" fill="none" />
<path d="M503.8 245.6 L533.8 265.6" stroke="#1a1a1a" stroke-width="1.1" fill="none" />
<path d="M505.0 248.1 L531.9 266.0" stroke="#1a1a1a" stroke-width="0.9" fill="none" />
<path d="M520.0 232.5 L533.8 240.6" stroke="#1a1a1a" stroke-width="0.9" fill="none" />
<path d="M521.2 230.6 L536.2 239.0" stroke="#1a1a1a" stroke-width="0.9" fill="none" />
<path d="M493.8 286.6 L535.0 268.1 L547.5 262.2 L560.0 256.2" stroke="#000" stroke-width="2.2" fill="none" />
<path d="M560.0 256.2 L590.0 242.8" stroke="#000" stroke-width="2.2" fill="none" />
<path d="M495.2 283.8 L532.5 266.9" stroke="#1a1a1a" stroke-width="1.0" fill="none" />
<path d="M535.0 266.2 L536.2 268.8" stroke="#1a1a1a" stroke-width="1" fill="none" />
<circle cx="543.2" cy="252.2" r="3.8" stroke="#1a1a1a" stroke-width="1" fill="none"/>
<path d="M539.6 254.8 L546.6 251.0" stroke="#1a1a1a" stroke-width="0.9" fill="none" />
<path d="M525.0 220.8 C525.8 221.1 528.4 221.7 529.5 222.6 C530.6 223.5 531.5 225.1 531.8 226.0 C532.1 226.9 531.7 227.7 531.2 228.2 C530.7 228.7 529.4 228.9 529.0 229.0" stroke="#1a1a1a" stroke-width="1.2" fill="none" />
<path d="M529.0 229.0 L519.2 228.8" stroke="#1a1a1a" stroke-width="1.2" fill="none" />
<path d="M515.0 224.5 L525.0 220.8" stroke="#1a1a1a" stroke-width="1.0" fill="none" />
<path d="M572.5 202.5 C571.0 203.4 565.8 205.5 563.5 208.0 C561.2 210.5 560.4 213.8 558.7 217.5 C557.0 221.2 554.8 225.7 553.4 230.3 C552.0 234.9 551.3 239.9 550.6 245.0 C549.9 250.1 549.4 258.0 549.2 260.6" stroke="#000" stroke-width="1.6" fill="none" />
<path d="M572.5 201.9 C574.0 202.1 578.8 202.2 581.2 203.1 C583.8 204.1 586.0 205.5 587.5 207.5 C589.0 209.5 589.5 211.5 590.0 215.0 C590.5 218.5 590.2 224.2 590.2 228.8 C590.2 233.3 590.0 240.2 590.0 242.5" stroke="#1a1a1a" stroke-width="1.5" fill="none" />
<path d="M573.1 206.2 C574.3 206.1 578.0 204.8 580.0 205.2 C582.0 205.7 583.9 206.9 585.0 208.8 C586.1 210.6 586.6 211.0 586.9 216.2 C587.2 221.5 586.9 236.0 586.9 240.0" stroke="#1a1a1a" stroke-width="1.0" fill="none" />
<path d="M582.5 196.2 C583.8 197.3 588.2 200.2 590.0 202.5 C591.8 204.8 592.5 206.2 593.1 210.0 C593.7 213.8 593.6 220.0 593.6 225.0 C593.6 230.0 593.6 236.6 593.1 240.0 C592.7 243.4 591.4 244.4 591.0 245.2" stroke="#1a1a1a" stroke-width="1.4" fill="none" />
<path d="M573.1 207.8 L586.5 217.5" stroke="#1a1a1a" stroke-width="0.9" fill="none" />
<path d="M558.8 222.5 L586.2 240.0" stroke="#1a1a1a" stroke-width="1.0" fill="none" />
<path d="M551.2 258.3 L589.0 241.2" stroke="#1a1a1a" stroke-width="1.0" fill="none" />
<path d="M525.0 219.5 C526.3 219.8 530.2 221.6 533.0 221.5 C535.8 221.4 539.2 220.2 542.0 219.0 C544.8 217.8 547.0 216.2 550.0 214.0 C553.0 211.8 557.2 208.2 560.0 206.0 C562.8 203.8 565.4 201.7 566.5 200.8" stroke="#1a1a1a" stroke-width="1.4" fill="none" />
<path d="M531.8 226.8 C532.1 227.1 532.1 228.2 533.5 228.4 C534.9 228.6 537.6 228.7 540.0 228.0 C542.4 227.3 545.3 225.7 548.0 224.0 C550.7 222.3 553.8 219.7 556.0 218.0 C558.2 216.3 560.3 214.5 561.2 213.8" stroke="#1a1a1a" stroke-width="1.3" fill="none" />
<path d="M554.5 215.0 L558.0 217.0" stroke="#1a1a1a" stroke-width="1" fill="none" />
<path d="M530.6 230.0 C531.4 230.6 534.0 231.7 535.0 233.8 C536.0 235.8 536.5 239.8 536.9 242.5 C537.3 245.2 537.4 248.8 537.5 250.0" stroke="#1a1a1a" stroke-width="1.0" fill="none" />
<path d="M525.0 231.2 C525.8 231.7 528.5 232.3 530.0 233.8 C531.5 235.2 532.9 237.3 533.8 240.0 C534.6 242.7 534.8 248.3 535.0 250.0" stroke="#1a1a1a" stroke-width="1.0" fill="none" />
</g>
<g id="iso-hardware">
<path d="M498.5 150.5 C499.6 150.0 502.6 147.8 505.0 147.5 C507.4 147.2 510.6 147.5 513.0 148.5 C515.4 149.5 518.4 152.7 519.5 153.5" stroke="#111" stroke-width="1.4" fill="none" />
<path d="M500.0 151.2 C500.8 150.9 503.0 149.5 505.0 149.3 C507.0 149.1 509.9 149.2 512.0 149.8 C514.1 150.4 516.6 152.5 517.5 153.0" stroke="#444" stroke-width="1.0" fill="none" />
<path d="M502.0 151.2 C502.7 151.0 504.4 150.4 506.0 150.3 C507.6 150.2 509.9 150.4 511.5 150.8 C513.1 151.2 514.8 152.5 515.5 152.8" stroke="#888" stroke-width="0.8" fill="none" />
<path d="M510.8 158.6 C511.9 158.1 514.9 155.9 517.3 155.6 C519.7 155.3 522.9 155.6 525.3 156.6 C527.7 157.6 530.7 160.8 531.8 161.6" stroke="#111" stroke-width="1.4" fill="none" />
<path d="M512.3 159.3 C513.1 159.0 515.3 157.6 517.3 157.4 C519.3 157.2 522.2 157.3 524.3 157.9 C526.4 158.5 528.9 160.6 529.8 161.1" stroke="#444" stroke-width="1.0" fill="none" />
<path d="M514.3 159.3 C515.0 159.1 516.7 158.5 518.3 158.4 C519.9 158.3 522.2 158.5 523.8 158.9 C525.4 159.3 527.1 160.6 527.8 160.9" stroke="#888" stroke-width="0.8" fill="none" />
<path d="M523.1 166.7 C524.2 166.2 527.2 164.0 529.6 163.7 C532.0 163.4 535.2 163.7 537.6 164.7 C540.0 165.7 543.0 168.9 544.1 169.7" stroke="#111" stroke-width="1.4" fill="none" />
<path d="M524.6 167.4 C525.4 167.1 527.6 165.7 529.6 165.5 C531.6 165.3 534.5 165.4 536.6 166.0 C538.7 166.6 541.2 168.7 542.1 169.2" stroke="#444" stroke-width="1.0" fill="none" />
<path d="M526.6 167.4 C527.3 167.2 529.0 166.6 530.6 166.5 C532.2 166.4 534.5 166.6 536.1 167.0 C537.7 167.4 539.4 168.7 540.1 169.0" stroke="#888" stroke-width="0.8" fill="none" />
<path d="M535.4 174.8 C536.5 174.3 539.5 172.1 541.9 171.8 C544.3 171.5 547.5 171.8 549.9 172.8 C552.3 173.8 555.3 177.0 556.4 177.8" stroke="#111" stroke-width="1.4" fill="none" />
<path d="M536.9 175.5 C537.7 175.2 539.9 173.8 541.9 173.6 C543.9 173.4 546.8 173.5 548.9 174.1 C551.0 174.7 553.5 176.8 554.4 177.3" stroke="#444" stroke-width="1.0" fill="none" />
<path d="M538.9 175.5 C539.6 175.3 541.3 174.7 542.9 174.6 C544.5 174.5 546.8 174.7 548.4 175.1 C550.0 175.5 551.7 176.8 552.4 177.1" stroke="#888" stroke-width="0.8" fill="none" />
<path d="M547.7 182.9 C548.8 182.4 551.8 180.2 554.2 179.9 C556.6 179.6 559.8 179.9 562.2 180.9 C564.6 181.9 567.6 185.1 568.7 185.9" stroke="#111" stroke-width="1.4" fill="none" />
<path d="M549.2 183.6 C550.0 183.3 552.2 181.9 554.2 181.7 C556.2 181.5 559.1 181.6 561.2 182.2 C563.3 182.8 565.8 184.9 566.7 185.4" stroke="#444" stroke-width="1.0" fill="none" />
<path d="M551.2 183.6 C551.9 183.4 553.6 182.8 555.2 182.7 C556.8 182.6 559.1 182.8 560.7 183.2 C562.3 183.6 564.0 184.9 564.7 185.2" stroke="#888" stroke-width="0.8" fill="none" />
<path d="M560.0 191.0 C561.1 190.5 564.1 188.3 566.5 188.0 C568.9 187.7 572.1 188.0 574.5 189.0 C576.9 190.0 579.9 193.2 581.0 194.0" stroke="#111" stroke-width="1.4" fill="none" />
<path d="M561.5 191.7 C562.3 191.4 564.5 190.0 566.5 189.8 C568.5 189.6 571.4 189.7 573.5 190.3 C575.6 190.9 578.1 193.0 579.0 193.5" stroke="#444" stroke-width="1.0" fill="none" />
<path d="M563.5 191.7 C564.2 191.5 565.9 190.9 567.5 190.8 C569.1 190.7 571.4 190.9 573.0 191.3 C574.6 191.7 576.3 193.0 577.0 193.3" stroke="#888" stroke-width="0.8" fill="none" />
<path d="M486.9 130.0 C488.0 130.2 491.8 130.2 493.8 131.2 C495.7 132.3 497.6 134.6 498.8 136.2 C499.9 137.9 500.3 140.4 500.6 141.2" stroke="#1a1a1a" stroke-width="1.1" fill="none" />
<path d="M482.5 131.2 C483.8 131.7 487.9 132.7 490.0 133.8 C492.1 134.8 494.2 136.9 495.0 137.5" stroke="#1a1a1a" stroke-width="0.9" fill="none" />
<path d="M452.0 170.0 L457.0 163.5 L475.5 158.5 L491.5 168.5 L485.5 183.0 L471.0 182.5" stroke="#000" stroke-width="1.7" fill="none" />
<path d="M476.0 158.8 L476.2 163.0 L488.8 171.2" stroke="#1a1a1a" stroke-width="1.1" fill="none" />
<path d="M457.0 163.7 L461.0 165.0 L476.2 163.0" stroke="#1a1a1a" stroke-width="1.0" fill="none" />
<ellipse cx="470.5" cy="175" rx="9.5" ry="5.6" transform="rotate(3 470.5 175)" stroke="#000" stroke-width="1.8" fill="#fff"/>
<path d="M505.3 204.6 L510.3 198.1 L528.8 193.1 L544.8 203.1 L538.8 217.6 L524.3 217.1" stroke="#000" stroke-width="1.7" fill="none" />
<path d="M529.3 193.4 L529.5 197.6 L542.1 205.8" stroke="#1a1a1a" stroke-width="1.1" fill="none" />
<path d="M510.3 198.3 L514.3 199.6 L529.5 197.6" stroke="#1a1a1a" stroke-width="1.0" fill="none" />
<ellipse cx="523.8" cy="209.6" rx="9.5" ry="5.6" transform="rotate(3 523.8 209.6)" stroke="#000" stroke-width="1.8" fill="#fff"/>
<ellipse cx="471.5" cy="195" rx="13.4" ry="7.4" transform="rotate(-6 471.5 195)" stroke="#000" stroke-width="1.7" fill="#fff"/>
<path d="M461.0 198.0 L478.0 191.8" stroke="#1a1a1a" stroke-width="1.2" fill="none" />
<path d="M464.0 201.2 L479.5 194.2" stroke="#1a1a1a" stroke-width="1.2" fill="none" />
<path d="M460.0 192.0 C461.7 191.4 466.7 188.8 470.0 188.5 C473.3 188.2 477.5 188.9 480.0 190.0 C482.5 191.1 484.2 194.2 485.0 195.0" stroke="#1a1a1a" stroke-width="1.0" fill="none" />
<ellipse cx="524.3" cy="171.8" rx="13" ry="7.7" transform="rotate(-4 524.3 171.8)" stroke="#000" stroke-width="1.7" fill="#fff"/>
<path d="M517.3 170.0 L519.8 168.5 L524.3 171.0 L529.3 169.0 L532.8 170.5 L528.3 173.0 L531.8 175.5 L528.8 177.0 L524.3 174.5 L519.3 177.2 L516.3 175.5 L520.8 172.8 Z" stroke="#1a1a1a" stroke-width="1.1" fill="none" />
<path d="M512.5 170.0 C513.8 169.2 517.1 166.1 520.0 165.5 C522.9 164.9 527.5 165.8 530.0 166.5 C532.5 167.2 534.2 169.4 535.0 170.0" stroke="#1a1a1a" stroke-width="1.0" fill="none" />
</g>
<g id="terminal">
<path d="M411.7 416.3 C410.8 415.9 408.6 413.9 406.7 413.7 C404.7 413.4 402.5 413.5 400.0 414.7 C397.5 415.9 394.3 418.1 391.7 420.8 C389.0 423.5 386.0 427.4 384.2 430.8 C382.4 434.3 381.2 438.2 380.8 441.7 C380.4 445.1 380.8 449.0 381.7 451.7 C382.5 454.3 384.2 456.4 385.8 457.5 C387.4 458.6 390.4 458.2 391.3 458.3" stroke="#303030" stroke-width="1.0" fill="none" />
<path d="M412.5 419.7 C411.0 419.6 406.2 418.3 403.3 419.2 C400.4 420.1 397.4 422.4 395.0 425.0 C392.6 427.6 390.4 431.7 389.2 435.0 C387.9 438.3 387.5 441.9 387.5 445.0 C387.5 448.1 388.4 451.2 389.2 453.3 C389.9 455.5 391.5 457.2 392.0 458.0" stroke="#303030" stroke-width="1.0" fill="none" />
<path d="M411.7 416.3 L469.0 452.2" stroke="#303030" stroke-width="1.0" fill="none" />
<path d="M391.7 458.0 L448.3 490.0 L460.0 494.2" stroke="#303030" stroke-width="1.0" fill="none" />
<path d="M468.0 452.5 C466.1 453.5 459.7 455.4 456.7 458.3 C453.7 461.2 451.5 466.1 450.0 470.0 C448.5 473.9 447.7 478.3 447.5 481.7 C447.3 485.0 448.5 488.6 448.7 490.0" stroke="#303030" stroke-width="1.0" fill="none" />
<path d="M469.2 452.5 C470.4 453.5 474.6 456.0 476.7 458.3 C478.8 460.7 480.4 464.2 481.7 466.7 C483.0 469.1 484.0 471.9 484.5 473.0" stroke="#303030" stroke-width="1.0" fill="none" />
<path d="M448.3 490.3 C449.4 490.9 452.6 493.0 455.0 493.7 C457.4 494.3 460.6 494.4 462.5 494.2 C464.4 494.0 466.0 492.8 466.7 492.5" stroke="#303030" stroke-width="1.0" fill="none" />
<path d="M484.5 472.5 C483.5 472.1 480.2 470.0 478.3 470.0 C476.5 470.0 474.9 471.1 473.3 472.5 C471.7 473.9 469.9 476.1 468.7 478.3 C467.4 480.6 466.3 484.6 465.8 485.8" stroke="#303030" stroke-width="1.0" fill="none" />
<path d="M471.7 480.8 C472.8 480.4 476.2 479.5 478.3 478.3 C480.4 477.1 483.2 474.4 484.2 473.7" stroke="#303030" stroke-width="1.0" fill="none" />
<path d="M470.3 484.7 C471.8 484.3 476.5 483.8 479.2 482.5 C481.8 481.2 485.1 477.9 486.3 477.0" stroke="#303030" stroke-width="1.0" fill="none" />
<path d="M475.0 470.0 C474.3 470.8 471.7 473.2 470.8 475.0 C469.9 476.8 469.9 479.9 469.7 480.8" stroke="#303030" stroke-width="1.0" fill="none" />
<path d="M465.8 485.8 C466.8 485.6 468.8 485.8 471.7 484.7 C474.6 483.6 480.6 480.6 483.3 479.2 C486.1 477.8 486.1 476.7 488.0 476.2 C489.9 475.6 493.0 475.6 495.0 475.8 C497.0 476.1 499.2 477.2 500.0 477.5" stroke="#303030" stroke-width="1.0" fill="none" />
<path d="M500.0 477.5 L523.3 490.8" stroke="#303030" stroke-width="1.0" fill="none" />
<path d="M523.3 490.8 C525.6 491.8 533.1 494.3 536.7 496.7 C540.3 499.0 543.3 502.5 545.0 505.0 C546.7 507.5 547.0 509.4 547.0 511.7 C547.0 513.9 546.3 516.4 545.0 518.3 C543.7 520.2 540.1 522.2 539.2 523.0" stroke="#303030" stroke-width="1.0" fill="none" />
<path d="M465.8 485.8 C466.0 486.5 465.1 487.5 466.7 489.7 C468.2 491.8 470.6 495.6 475.0 498.7 C479.4 501.8 490.0 506.7 493.0 508.3" stroke="#303030" stroke-width="1.0" fill="none" />
<path d="M523.3 490.8 L493.0 508.3" stroke="#303030" stroke-width="1.0" fill="none" />
<ellipse cx="493.5" cy="491.3" rx="13.6" ry="8.6" transform="rotate(3 493.5 491.3)" stroke="#3a3a3a" stroke-width="1" fill="none"/>
<path d="M493.0 508.3 C494.2 507.9 497.7 505.8 500.0 505.8 C502.3 505.8 504.7 506.8 506.7 508.3 C508.7 509.9 510.3 512.6 512.0 515.0 C513.7 517.4 515.1 521.3 516.7 523.0 C518.3 524.7 519.4 525.1 521.7 525.3 C523.9 525.6 527.1 524.7 530.0 524.3 C532.9 523.9 537.6 523.2 539.2 523.0" stroke="#303030" stroke-width="1.0" fill="none" />
<path d="M493.0 508.3 C493.3 509.2 493.0 511.6 495.0 513.3 C497.0 515.1 501.4 516.7 505.0 518.7 C508.6 520.7 513.8 523.2 516.7 525.3 C519.6 527.5 521.5 530.6 522.5 531.7" stroke="#303030" stroke-width="1.0" fill="none" />
<path d="M522.5 531.7 C525.1 530.6 534.4 528.0 538.3 525.3 C542.2 522.7 544.4 518.1 545.8 515.8 C547.3 513.6 546.8 512.4 547.0 511.7" stroke="#303030" stroke-width="1.0" fill="none" />
<path d="M516.7 523.0 L522.5 531.7" stroke="#303030" stroke-width="1.0" fill="none" />
<path d="M466.7 489.7 C467.1 490.6 467.8 493.1 469.2 495.0 C470.6 496.9 471.0 498.1 475.0 500.8 C479.0 503.6 490.0 509.6 493.0 511.3" stroke="#303030" stroke-width="1.0" fill="none" />
</g>
<g id="od-arrow">
<line x1="372.5" y1="434.7" x2="390.2" y2="410.6" stroke="#000" stroke-width="1.1"/>
<path d="M370.3 437.7 L372.6 429.6 L377.2 433 Z" stroke="#000" stroke-width="0.5" fill="#000" />
<path d="M392.3 407.7 L390 415.8 L385.4 412.4 Z" stroke="#000" stroke-width="0.5" fill="#000" />
</g>
<g id="labels" stroke="#000" stroke-width="0.7" stroke-linejoin="miter" opacity="0.999">
<text x="241.0" y="115.6" font-size="18.5"><tspan textLength="40.3" lengthAdjust="spacingAndGlyphs">46.4</tspan><tspan x="281.5" font-size="20.4" textLength="31" lengthAdjust="spacingAndGlyphs">mm</tspan></text>
<text x="254.5" y="284.8" font-size="18.4"><tspan textLength="21.5" lengthAdjust="spacingAndGlyphs">21</tspan><tspan x="277" font-size="20.2" textLength="32" lengthAdjust="spacingAndGlyphs">mm</tspan></text>
<text x="132.3" y="396.6" font-size="18"><tspan textLength="41.8" lengthAdjust="spacingAndGlyphs">63.5</tspan><tspan x="174.2" font-size="19.8" textLength="30" lengthAdjust="spacingAndGlyphs">mm</tspan></text>
<text x="9.8" y="479.8" font-size="18"><tspan textLength="22.6" lengthAdjust="spacingAndGlyphs">45</tspan><tspan x="33" font-size="19.8" textLength="30.6" lengthAdjust="spacingAndGlyphs">mm</tspan></text>
<text x="179.8" y="564.1" font-size="14"><tspan textLength="19.8" lengthAdjust="spacingAndGlyphs">15</tspan><tspan x="199.8" font-size="15.4" textLength="24.5" lengthAdjust="spacingAndGlyphs">mm</tspan></text>
<text x="236.8" y="576.3" font-size="13.5"><tspan textLength="10.6" lengthAdjust="spacingAndGlyphs">5</tspan><tspan x="247.6" font-size="14.9" textLength="24.6" lengthAdjust="spacingAndGlyphs">mm</tspan></text>
<text transform="translate(354,442.2) rotate(-51)" font-size="16.5" textLength="76" lengthAdjust="spacingAndGlyphs">OD:8.8mm</text>
</g>
</svg>
</body>
</html>
